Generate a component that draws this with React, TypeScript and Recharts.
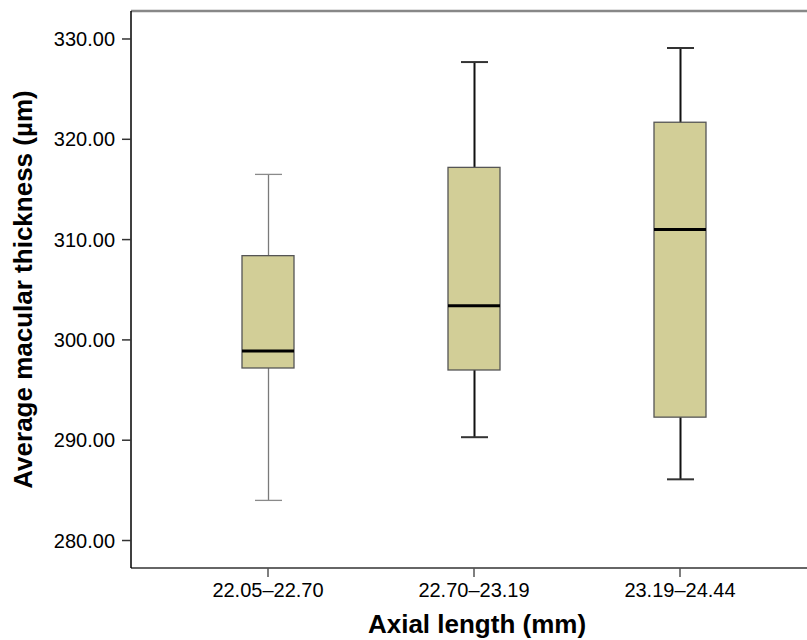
import React from "react";
import {
  ComposedChart,
  Bar,
  XAxis,
  YAxis,
  ReferenceLine,
} from "recharts";

const categories = ["22.05–22.70", "22.70–23.19", "23.19–24.44"];
const whiskerLow = [284.0, 290.3, 286.1];
const quartile1 = [297.2, 297.0, 292.3];
const medians = [298.9, 303.4, 311.0];
const quartile3 = [308.4, 317.2, 321.7];
const whiskerHigh = [316.5, 327.7, 329.1];
const yTicks = [280, 290, 300, 310, 320, 330];
const yDomain = [277.26, 332.79];

const data = categories.map((name, i) => ({
  name,
  whisker: [whiskerLow[i], whiskerHigh[i]],
  box: [quartile1[i], quartile3[i]],
  median: [medians[i], medians[i]],
}));

const FONT = "'Liberation Sans', Arial, Helvetica, sans-serif";

const Whisker = (props: any) => {
  const { x, y, width, height, index } = props;
  const cx = x + width / 2;
  // first group is drawn with thin grey whiskers in the original
  const thin = index === 0;
  const stroke = thin ? "#7a7a7a" : "#111";
  const sw = thin ? 1.3 : 2;
  return (
    <g>
      <line x1={cx} x2={cx} y1={y} y2={y + height} stroke={stroke} strokeWidth={sw} />
      <line x1={x} x2={x + width} y1={y} y2={y} stroke={thin ? "#8a8a8a" : "#333"} strokeWidth={sw} />
      <line x1={x} x2={x + width} y1={y + height} y2={y + height} stroke={thin ? "#8a8a8a" : "#333"} strokeWidth={sw} />
    </g>
  );
};

const Box = (props: any) => {
  const { x, y, width, height } = props;
  return (
    <rect x={x} y={y} width={width} height={height} fill="#d2ce97" stroke="#555" strokeWidth={1.3} />
  );
};

const Median = (props: any) => {
  const { x, y, width } = props;
  return <line x1={x} x2={x + width} y1={y} y2={y} stroke="#000" strokeWidth={3} />;
};

const YLabel = (props: any) => {
  const vb = props.viewBox || {};
  const cy = vb.y + vb.height / 2;
  return (
    <text
      x={32}
      y={cy}
      transform={`rotate(-90, 32, ${cy})`}
      textAnchor="middle"
      fontFamily={FONT}
      fontWeight="bold"
      fontSize={26}
      fill="#000"
    >
      Average macular thickness (µm)
    </text>
  );
};

export default function App() {
  const padding = { left: 34, right: 24 };
  return (
    <div style={{ position: "absolute", left: 0, top: 0, background: "#fff" }}>
      <ComposedChart
        width={807}
        height={640}
        data={data}
        margin={{ top: 11, right: 0, bottom: 42, left: 0 }}
      >
        <XAxis
          xAxisId="box"
          dataKey="name"
          padding={padding}
          height={30}
          tickSize={9}
          tickMargin={6}
          axisLine={{ stroke: "#333", strokeWidth: 1.5 }}
          tickLine={{ stroke: "#555", strokeWidth: 1.5 }}
          tick={{ fill: "#000", fontSize: 20, fontFamily: FONT }}
        />
        <XAxis xAxisId="whisker" dataKey="name" padding={padding} hide />
        <XAxis xAxisId="median" dataKey="name" padding={padding} hide />
        <YAxis
          domain={yDomain}
          ticks={yTicks}
          allowDataOverflow
          width={131}
          tickSize={9}
          tickMargin={7}
          tickFormatter={(v: number) => v.toFixed(2)}
          axisLine={{ stroke: "#000", strokeWidth: 1.5 }}
          tickLine={{ stroke: "#333", strokeWidth: 1.5 }}
          tick={{ fill: "#000", fontSize: 20, fontFamily: FONT }}
          label={<YLabel />}
        />
        <ReferenceLine
          xAxisId="box"
          y={yDomain[1]}
          stroke="#888"
          strokeWidth={2.5}
          ifOverflow="extendDomain"
        />
        <Bar
          xAxisId="whisker"
          dataKey="whisker"
          barSize={27}
          shape={<Whisker />}
          isAnimationActive={false}
        />
        <Bar
          xAxisId="box"
          dataKey="box"
          barSize={52}
          shape={<Box />}
          isAnimationActive={false}
        />
        <Bar
          xAxisId="median"
          dataKey="median"
          barSize={52}
          shape={<Median />}
          isAnimationActive={false}
        />
      </ComposedChart>
      <div
        style={{
          position: "absolute",
          left: 0,
          width: 954,
          top: 609,
          textAlign: "center",
          fontFamily: FONT,
          fontWeight: "bold",
          fontSize: 26,
          lineHeight: "30px",
          color: "#000",
          pointerEvents: "none",
        }}
      >
        Axial length (mm)
      </div>
    </div>
  );
}
